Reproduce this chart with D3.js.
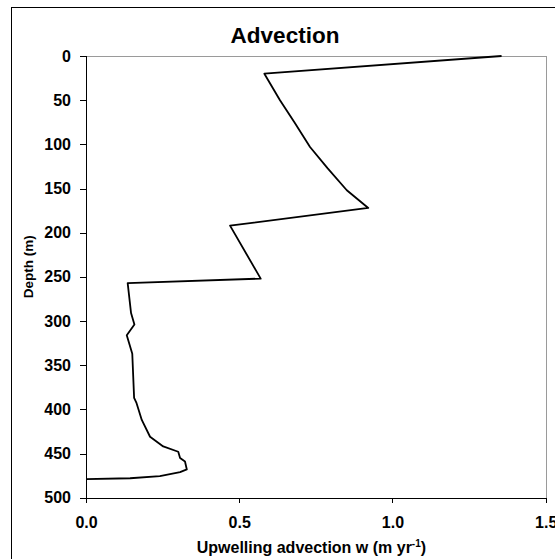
<!DOCTYPE html>
<html>
<head>
<meta charset="utf-8">
<script src="https://cdn.jsdelivr.net/npm/d3@7"></script>
<style>
  html, body { margin: 0; padding: 0; background: #fff; }
  svg { display: block; }
  text { font-family: "Liberation Sans", Arial, sans-serif; font-weight: bold; fill: #000; }
</style>
</head>
<body>
<svg id="chart" width="555" height="559"></svg>
<script>
// Upwelling advection profile: depth (m) and vertical velocity w (m/yr)
const depth = [0, 20, 50, 75, 103, 127, 152, 172, 192, 252, 257, 291, 304, 316, 337,
               387, 393, 412, 431, 442, 448, 455, 459, 468, 471, 475.5, 478, 479];
const advection = [1.356, 0.582, 0.633, 0.680, 0.731, 0.788, 0.851, 0.921, 0.470, 0.570,
                   0.136, 0.147, 0.158, 0.133, 0.151, 0.157, 0.165, 0.182, 0.209, 0.252,
                   0.301, 0.307, 0.323, 0.329, 0.307, 0.241, 0.144, 0.0];
const xTicks = [0, 0.5, 1.0, 1.5];
const yTicks = [0, 50, 100, 150, 200, 250, 300, 350, 400, 450, 500];
const titleText = "Advection";
const yLabel = "Depth (m)";

const svg = d3.select("#chart");
const plot = { left: 86, right: 545.7, top: 56, bottom: 497.7 };

const x = d3.scaleLinear().domain([0, 1.5]).range([plot.left, plot.right]);
const y = d3.scaleLinear().domain([0, 500]).range([plot.top, plot.bottom]);

// outer frame
svg.append("rect")
  .attr("x", 11.5).attr("y", 7.5)
  .attr("width", 560).attr("height", 560)
  .attr("fill", "none").attr("stroke", "#000").attr("stroke-width", 1);

// plot box (top and right edges in grey)
svg.append("path")
  .attr("d", `M${plot.left},${plot.top + 0.5}H${plot.right + 0.5}V${plot.bottom}`)
  .attr("fill", "none").attr("stroke", "#9a9a9a").attr("stroke-width", 1)
  .attr("shape-rendering", "crispEdges");

// title
svg.append("text")
  .attr("x", 285).attr("y", 42.5)
  .attr("text-anchor", "middle")
  .style("font-size", "22.5px")
  .text(titleText);

// y axis
const yAxis = svg.append("g")
  .attr("transform", `translate(${plot.left},0)`)
  .call(d3.axisLeft(y).tickValues(yTicks).tickFormat(d3.format("d")).tickSize(6).tickPadding(9));
yAxis.selectAll("text").style("font-size", "16px").style("font-family", "Liberation Sans, Arial, sans-serif").style("font-weight", "bold").attr("fill", "#000");

// x axis
const xAxis = svg.append("g")
  .attr("transform", `translate(0,${plot.bottom})`)
  .call(d3.axisBottom(x).tickValues(xTicks).tickFormat(d3.format(".1f")).tickSize(5).tickPadding(14));
xAxis.selectAll("text").style("font-size", "16px").style("font-family", "Liberation Sans, Arial, sans-serif").style("font-weight", "bold").attr("fill", "#000");

[yAxis, xAxis].forEach(g => {
  g.selectAll("path, line").attr("stroke", "#000").attr("shape-rendering", "crispEdges");
});

// axis titles
svg.append("text")
  .attr("transform", `translate(33,${266.7}) rotate(-90)`)
  .attr("text-anchor", "middle")
  .style("font-size", "13.5px")
  .text(yLabel);

const xl = svg.append("text")
  .attr("x", 311.4).attr("y", 553)
  .attr("text-anchor", "middle")
  .style("font-size", "16px");
xl.append("tspan").text("Upwelling advection w (m yr");
xl.append("tspan").attr("dy", -6).style("font-size", "10px").text("-1");
xl.append("tspan").attr("dy", 6).text(")");

// profile line
const line = d3.line()
  .x((d, i) => x(advection[i]))
  .y(d => y(d));

svg.append("path")
  .datum(depth)
  .attr("d", line)
  .attr("fill", "none")
  .attr("stroke", "#000")
  .attr("stroke-width", 1.8)
  .attr("stroke-linejoin", "round");
</script>
</body>
</html>
